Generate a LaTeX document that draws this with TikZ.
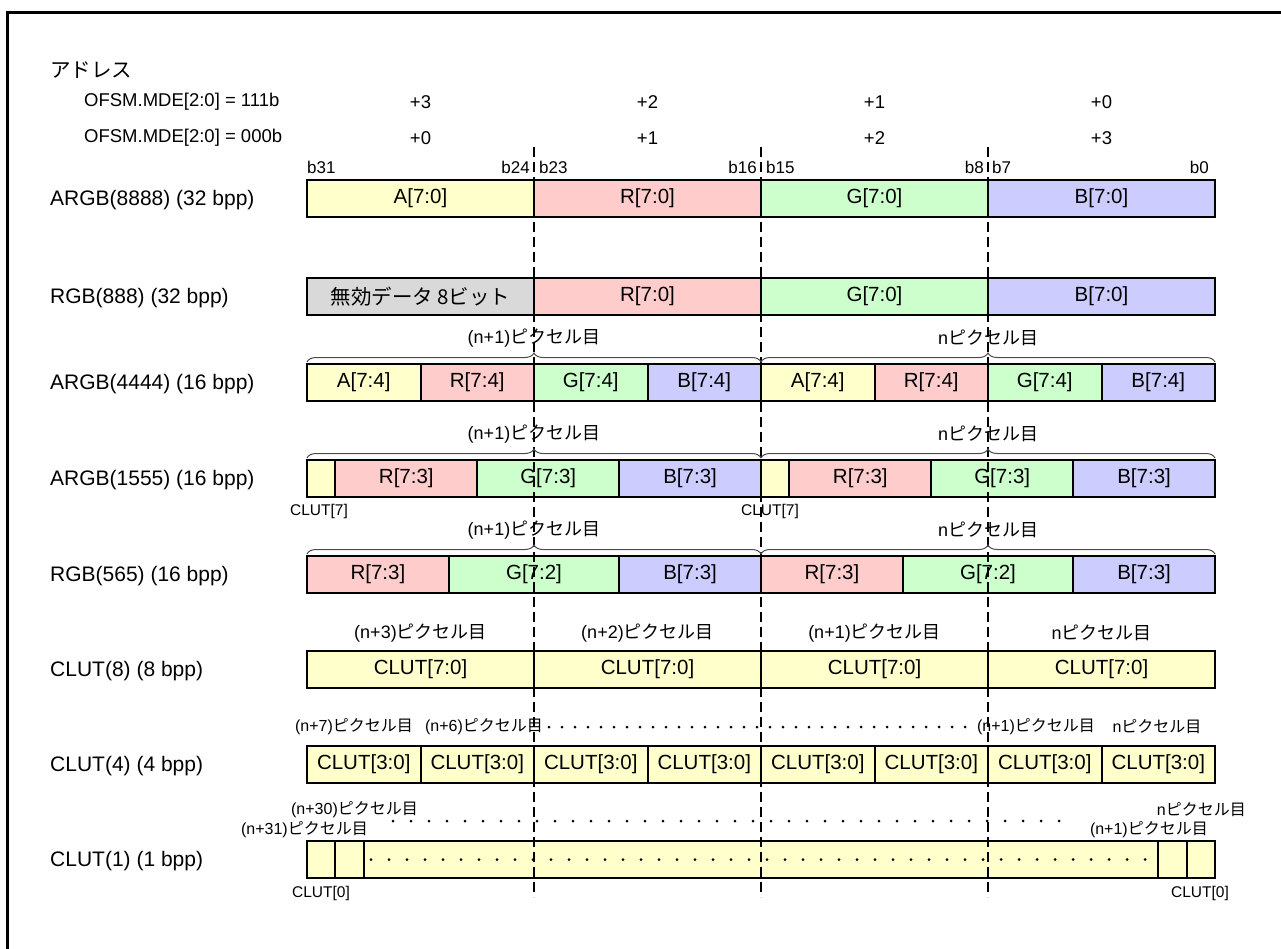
\documentclass[tikz,border=0pt]{standalone}
\usepackage{fontspec}
\setmainfont{Liberation Sans}
\newfontfamily\jp{Noto Sans CJK JP}
\usetikzlibrary{decorations.pathreplacing}
\newcommand\fsz[1]{\fontsize{#1pt}{#1pt}\selectfont}
\definecolor{cy}{HTML}{FFFFCC}
\definecolor{cr}{HTML}{FFCCCC}
\definecolor{cg}{HTML}{CCFFCC}
\definecolor{cb}{HTML}{CCCCFF}
\definecolor{cgray}{HTML}{D9D9D9}
\newcommand\mkcell[6]{\node[cell, fill=#5, minimum width={(#3)-(#2)}] (#1) at ({((#2)+(#3))/2},{#4+18.5}) {#6};}
\newcommand\pxj[1]{#1{\jp ピクセル目}}
\begin{document}
\begin{tikzpicture}[x=1pt,y=-1pt,
 cell/.style={draw, line width=2pt, minimum height=37pt, inner sep=0pt, outer sep=0pt, font=\fsz{20.5}},
 rowlabel/.style={anchor=west, inner sep=0pt, font=\fsz{21}},
 ofs/.style={inner sep=0pt, font=\fsz{18.5}},
 bitlbl/.style={inner sep=0pt, font=\fsz{17}},
 pix/.style={inner sep=0pt, font=\fsz{18}},
 pixs/.style={inner sep=0pt, font=\fsz{16}},
 smalllbl/.style={inner sep=0pt, font=\fsz{15.5}},
 guide/.style={line width=2pt, dash pattern=on 10pt off 5pt, dash phase=10pt},
 brc/.style={decorate, decoration={brace, amplitude=9pt}, line width=1pt, draw=black!70},
]
\useasboundingbox (0,0) rectangle (1281,948);
\draw[line width=3pt] (7,960) -- (7,12) -- (1290,12);

% address header
\node[anchor=west, inner sep=0pt, font=\fsz{20.5}] (addr) at (50,70) {\jp アドレス};
\node[ofs, anchor=west] (mde1) at (84,102) {OFSM.MDE[2:0] = 111b};
\node[ofs, anchor=west] (mde0) at (84,138) {OFSM.MDE[2:0] = 000b};
\node[ofs] (o13) at (420.5,102) {+3};
\node[ofs] (o12) at (647.5,102) {+2};
\node[ofs] (o11) at (874.5,102) {+1};
\node[ofs] (o10) at (1101.5,102) {+0};
\node[ofs] (o03) at (420.5,138) {+0};
\node[ofs] (o02) at (647.5,138) {+1};
\node[ofs] (o01) at (874.5,138) {+2};
\node[ofs] (o00) at (1101.5,138) {+3};

% bit labels
\node[bitlbl, anchor=west] (b31) at (307,167) {b31};
\node[bitlbl, anchor=east] (b24) at (530,167) {b24};
\node[bitlbl, anchor=west] (b23) at (539,167) {b23};
\node[bitlbl, anchor=east] (b16) at (757,167) {b16};
\node[bitlbl, anchor=west] (b15) at (766,167) {b15};
\node[bitlbl, anchor=east] (b8) at (984,167) {b8};
\node[bitlbl, anchor=west] (b7) at (992,167) {b7};
\node[bitlbl, anchor=east] (b0) at (1209,167) {b0};

% row labels
\node[rowlabel] (l1) at (50,200) {ARGB(8888) (32 bpp)};
\node[rowlabel] (l2) at (50,298) {RGB(888) (32 bpp)};
\node[rowlabel] (l3) at (50,384) {ARGB(4444) (16 bpp)};
\node[rowlabel] (l4) at (50,480) {ARGB(1555) (16 bpp)};
\node[rowlabel] (l5) at (50,576) {RGB(565) (16 bpp)};
\node[rowlabel] (l6) at (50,671) {CLUT(8) (8 bpp)};
\node[rowlabel] (l7) at (50,766) {CLUT(4) (4 bpp)};
\node[rowlabel] (l8) at (50,861) {CLUT(1) (1 bpp)};

% ARGB8888
\mkcell{a8a}{307}{534}{180}{cy}{A[7:0]}
\mkcell{a8r}{534}{761}{180}{cr}{R[7:0]}
\mkcell{a8g}{761}{988}{180}{cg}{G[7:0]}
\mkcell{a8b}{988}{1215}{180}{cb}{B[7:0]}
% RGB888
\mkcell{r8x}{307}{534}{278}{cgray}{\jp 無効データ 8ビット}
\mkcell{r8r}{534}{761}{278}{cr}{R[7:0]}
\mkcell{r8g}{761}{988}{278}{cg}{G[7:0]}
\mkcell{r8b}{988}{1215}{278}{cb}{B[7:0]}
% ARGB4444
\mkcell{a4a1}{307}{420.5}{364}{cy}{A[7:4]}
\mkcell{a4r1}{420.5}{534}{364}{cr}{R[7:4]}
\mkcell{a4g1}{534}{647.5}{364}{cg}{G[7:4]}
\mkcell{a4b1}{647.5}{761}{364}{cb}{B[7:4]}
\mkcell{a4a0}{761}{874.5}{364}{cy}{A[7:4]}
\mkcell{a4r0}{874.5}{988}{364}{cr}{R[7:4]}
\mkcell{a4g0}{988}{1101.5}{364}{cg}{G[7:4]}
\mkcell{a4b0}{1101.5}{1215}{364}{cb}{B[7:4]}
% ARGB1555
\mkcell{a5a1}{307}{335.375}{460}{cy}{}
\mkcell{a5r1}{335.375}{477.25}{460}{cr}{R[7:3]}
\mkcell{a5g1}{477.25}{619.125}{460}{cg}{G[7:3]}
\mkcell{a5b1}{619.125}{761}{460}{cb}{B[7:3]}
\mkcell{a5a0}{761}{789.375}{460}{cy}{}
\mkcell{a5r0}{789.375}{931.25}{460}{cr}{R[7:3]}
\mkcell{a5g0}{931.25}{1073.125}{460}{cg}{G[7:3]}
\mkcell{a5b0}{1073.125}{1215}{460}{cb}{B[7:3]}
% RGB565
\mkcell{r5r1}{307}{448.875}{556}{cr}{R[7:3]}
\mkcell{r5g1}{448.875}{619.125}{556}{cg}{G[7:2]}
\mkcell{r5b1}{619.125}{761}{556}{cb}{B[7:3]}
\mkcell{r5r0}{761}{902.875}{556}{cr}{R[7:3]}
\mkcell{r5g0}{902.875}{1073.125}{556}{cg}{G[7:2]}
\mkcell{r5b0}{1073.125}{1215}{556}{cb}{B[7:3]}
% CLUT8
\mkcell{c8a}{307}{534}{651}{cy}{CLUT[7:0]}
\mkcell{c8b}{534}{761}{651}{cy}{CLUT[7:0]}
\mkcell{c8c}{761}{988}{651}{cy}{CLUT[7:0]}
\mkcell{c8d}{988}{1215}{651}{cy}{CLUT[7:0]}
% CLUT4
\foreach \i in {0,...,7}{
  \mkcell{c4\i}{307+113.5*\i}{420.5+113.5*\i}{746}{cy}{CLUT[3:0]}
}
% CLUT1
\mkcell{c1a}{307}{335.375}{841}{cy}{}
\mkcell{c1b}{335.375}{363.75}{841}{cy}{}
\mkcell{c1m}{363.75}{1158.25}{841}{cy}{}
\mkcell{c1c}{1158.25}{1186.625}{841}{cy}{}
\mkcell{c1d}{1186.625}{1215}{841}{cy}{}
\foreach \i in {0,...,43}{ \fill (371+18*\i,859.5) circle (1.5); }
\foreach \i in {0,...,37}{ \fill (393+18*\i,821) circle (1.5); }
\foreach \i in {0,...,32}{ \fill (549+13*\i,727) circle (1.5); }

% guide dashed lines
\foreach \x/\n in {534/1,761/2,988/3}{
  \coordinate (gt\n) at (\x,142);
  \coordinate (gb\n) at (\x,897);
  \draw[guide] (gt\n) -- (gb\n);
}

% braces and pixel labels
\foreach \t/\n in {364/p3,460/p4,556/p5}{
  \coordinate (\n l) at (307,\t-2);
  \coordinate (\n m) at (761,\t-2);
  \coordinate (\n r) at (1215,\t-2);
  \draw[brc] (\n l) -- (\n m);
  \draw[brc] (\n m) -- (\n r);
  \node[pix] (\n a) at (534,\t-26) {\pxj{(n+1)}};
  \node[pix] (\n b) at (988,\t-26) {\pxj{n}};
}
\node[smalllbl] (clut7a) at (319,511) {CLUT[7]};
\node[smalllbl] (clut7b) at (770,511) {CLUT[7]};

% CLUT8 labels
\node[pix] (q3) at (420.5,633) {\pxj{(n+3)}};
\node[pix] (q2) at (647.5,633) {\pxj{(n+2)}};
\node[pix] (q1) at (874.5,633) {\pxj{(n+1)}};
\node[pix] (q0) at (1101.5,633) {\pxj{n}};

% CLUT4 labels
\node[pixs] (e7) at (354,727) {\pxj{(n+7)}};
\node[pixs] (e6) at (484,727) {\pxj{(n+6)}};
\node[pixs] (e1) at (1036,727) {\pxj{(n+1)}};
\node[pixs] (e0) at (1157,727) {\pxj{n}};

% CLUT1 labels
\node[pixs] (s30) at (354.5,810) {\pxj{(n+30)}};
\node[pixs, anchor=east] (s31) at (368,830) {\pxj{(n+31)}};
\node[pixs, anchor=east] (s0) at (1246,810) {\pxj{n}};
\node[pixs, anchor=east] (s1) at (1208,830) {\pxj{(n+1)}};
\node[smalllbl] (clut0a) at (321,893) {CLUT[0]};
\node[smalllbl] (clut0b) at (1200,893) {CLUT[0]};
\end{tikzpicture}
\end{document}
